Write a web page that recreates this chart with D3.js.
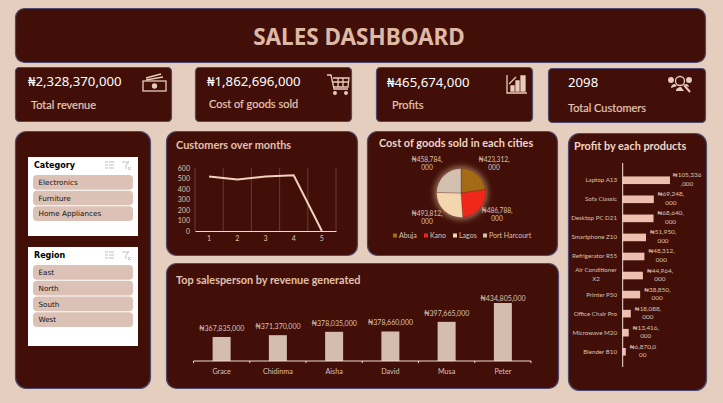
<!DOCTYPE html>
<html><head><meta charset="utf-8">
<script src="https://cdn.jsdelivr.net/npm/d3@7"></script>
<style>html,body{margin:0;padding:0;background:#E6CEBF;overflow:hidden}svg{display:block}text{font-family:"Noto Sans","Open Sans",sans-serif}</style>
</head><body><svg id="c" width="723" height="403"></svg>
<script>
const kpiValues=["₦2,328,370,000","₦1,862,696,000","₦465,674,000","2098"];
const kpiLabels=["Total revenue","Cost of goods sold","Profits","Total Customers"];
const months=[1,2,3,4,5];
const customers=[520,490,520,530,0];
const customerTicks=[0,100,200,300,400,500,600];
const cities=["Abuja","Kano","Lagos","Port Harcourt"];
const cityCost=[423312000,486788000,493812000,458784000];
const people=["Grace","Chidinma","Aisha","David","Musa","Peter"];
const revenue=[367835000,371370000,378035000,378660000,397665000,434805000];
const products=["Laptop A13","Sofa Classic","Desktop PC D21","Smartphone Z10","Refrigerator R55","Air Conditioner X2","Printer P50","Office Chair Pro","Microwave M20","Blender B10"];
const profit=[105336000,69248000,68640000,51950000,48312000,44964000,38850000,18088000,13416000,6870000];
const categories=["Electronics","Furniture","Home Appliances"];
const regions=["East","North","South","West"];

const DARK="#410F08",EDGE="#4C4A6E",SOFT="#DCC0B2",PALE="#E9CBBB";
const svg=d3.select("#c");
const naira=d=>"₦"+d3.format(",")(d);
function panel(x,y,w,h,r){svg.append("rect").attr("x",x+.5).attr("y",y+.5).attr("width",w).attr("height",h).attr("rx",r).attr("fill",DARK).attr("stroke",EDGE).attr("stroke-width",1.2);}
function label(g,x,y,t,size,fill,anchor,weight){return g.append("text").attr("x",x).attr("y",y).attr("font-size",size).attr("fill",fill).attr("text-anchor",anchor||"start").attr("font-weight",weight||400).text(t);}
function small(g,x,y,t,size,anchor){return label(g,x,y,t,size,SOFT,anchor).style("font-family","Lato");}
function heading(x,y,t,fill){return label(svg,x,y,t,10.9,fill,"start",700).style("font-family","Lato");}

// title
panel(15,8,690,54,9);
label(svg,359,45,"SALES DASHBOARD",22.5,"#DDB9A6","middle",700);

// KPI cards
const cards=[[15,67,156,54,28,86,31,109],[195,67,156,54,207,86,209,108],[376,67,156,54,387,87,392,109],[548,68,157,54,568,87,568,112]];
cards.forEach((c,i)=>{panel(c[0],c[1],c[2],c[3],4);
 label(svg,c[4],c[5],kpiValues[i],13.2,"#FFF");
 label(svg,c[6],c[7],kpiLabels[i],11,"#E3C6B6").style("font-family","Lato").style("stroke","#E3C6B6").style("stroke-width",.2);});
// KPI icons
const ic=svg.append("g").attr("fill","none").attr("stroke",PALE).attr("stroke-width",1.3);
ic.append("rect").attr("x",143).attr("y",81).attr("width",23).attr("height",10);
ic.append("circle").attr("cx",154.5).attr("cy",86).attr("r",2).attr("fill",PALE);
ic.append("path").attr("d","M146 78L161 74M146 80L163 77");
ic.append("path").attr("d","M327 75h4l3 14h14M333 78h16l-1 9h-14M338 78v9M343 78v9M333 82h16");
ic.append("circle").attr("cx",335).attr("cy",93).attr("r",1.3).attr("fill",PALE);
ic.append("circle").attr("cx",346).attr("cy",93).attr("r",1.3).attr("fill",PALE);
ic.append("path").attr("d","M507 75v18h20");
ic.append("path").attr("d","M511 91v-5h3v5zM516 91v-10h3v10zM521 91v-15h4v15z").attr("fill",PALE);
ic.append("path").attr("d","M509 84l7-7");
ic.append("circle").attr("cx",680).attr("cy",81).attr("r",4.5);
ic.append("path").attr("d","M684 85l6 7").attr("stroke-width",2);
ic.append("circle").attr("cx",671).attr("cy",80).attr("r",2.3).attr("fill",PALE);
ic.append("circle").attr("cx",689).attr("cy",80).attr("r",2.3).attr("fill",PALE);
ic.append("path").attr("d","M671 88c0-3 2-4 4-4l2 2zM689 87c0-2-2-3-3-3l-2 1zM676 91c0-3 3-4 5-4l3 4z").attr("fill",PALE).attr("stroke","none");

// slicers
panel(15,131,135,257,11);
function slicer(y,h,title,items){
 svg.append("rect").attr("x",28).attr("y",y).attr("width",110).attr("height",h).attr("fill","#FFF");
 label(svg,34,y+11,title,8,"#000","start",700).style("font-family","'DejaVu Sans'");
 const ig=svg.append("g").attr("stroke","#BDBDBD").attr("stroke-width",1).attr("fill","none");
 ig.append("path").attr("d",`M105 ${y+5}h3M105 ${y+8}h3M105 ${y+11}h3M109 ${y+5}h5M109 ${y+8}h5M109 ${y+11}h5`);
 ig.append("path").attr("d",`M122 ${y+5}h7l-3 3v4M128 ${y+10}l3 3M131 ${y+10}l-3 3`);
 const s=d3.scaleBand().domain(items).range([y+17,y+17+16*items.length]).padding(.06);
 svg.selectAll(null).data(items).join("rect").attr("x",33).attr("y",d=>s(d)).attr("width",100).attr("height",s.bandwidth()).attr("rx",4).attr("fill","#DCC2B6");
 svg.selectAll(null).data(items).join("text").attr("x",38.5).attr("y",d=>s(d)+s.bandwidth()/2+2.7).attr("font-size",7.2).attr("fill","#111").style("font-family","'DejaVu Sans'").text(d=>d);
}
slicer(157,79,"Category",categories);
slicer(247,99,"Region",regions);

// line chart
panel(166,131,191,124,10);
heading(176,149,"Customers over months","#E3C0AE");
const lx=d3.scaleBand().domain(months).range([195,336]);
const ly=d3.scaleLinear().domain([0,600]).range([231,168]);
svg.append("g").selectAll("line").data([...months.map(m=>lx(m)),336]).join("line").attr("x1",d=>d).attr("x2",d=>d).attr("y1",168).attr("y2",231).attr("stroke","#7A4E45").attr("stroke-width",.7);
const ya=svg.append("g").attr("transform","translate(191,0)").call(d3.axisLeft(ly).tickValues(customerTicks).tickSize(0).tickPadding(1));
ya.select(".domain").remove();
ya.selectAll("text").attr("font-size",7).attr("fill",SOFT).style("font-family","Lato");
const xa=svg.append("g").attr("transform","translate(0,231)").call(d3.axisBottom(lx).tickSize(0).tickPadding(5));
xa.select(".domain").attr("stroke","#F3DCCD").attr("stroke-width",1.1);
xa.selectAll("text").attr("font-size",7).attr("fill",SOFT).style("font-family","Lato");
svg.append("path").datum(customers).attr("fill","none").attr("stroke","#F2D1BD").attr("stroke-width",2)
 .attr("d",d3.line().x((d,i)=>lx(months[i])+lx.bandwidth()/2).y(d=>ly(d)));

// pie
panel(367,131,190,124,10);
heading(379,147,"Cost of goods sold in each cities","#F0D6C8");
const defs=svg.append("defs");
defs.append("filter").attr("id","glow").attr("x","-40%").attr("y","-40%").attr("width","180%").attr("height","180%").append("feGaussianBlur").attr("stdDeviation",3);
const pieColor=d3.scaleOrdinal().domain(cities).range(["#A26B14","#F0281C","#F3D5AE","#D3C0B0"]);
const pg=svg.append("g").attr("transform","translate(461,193)");
pg.append("circle").attr("r",26).attr("fill","#F2D0A8").attr("opacity",.6).attr("filter","url(#glow)");
const arcs=d3.pie().sort(null)(cityCost);
pg.selectAll("path").data(arcs).join("path").attr("d",d3.arc().innerRadius(0).outerRadius(24.5)).attr("fill",(d,i)=>pieColor(cities[i])).attr("stroke",DARK).attr("stroke-width",.25);
const pieLab=[[494,162],[497,213],[427,216],[427,162]];
cityCost.forEach((v,i)=>{const s=naira(v);
 small(svg,pieLab[i][0],pieLab[i][1],s.slice(0,9),6.6,"middle");
 small(svg,pieLab[i][0],pieLab[i][1]+8,s.slice(9),6.6,"middle");});
const legX=[393,424,453,483];
cities.forEach((c,i)=>{svg.append("rect").attr("x",legX[i]).attr("y",233.5).attr("width",4).attr("height",4).attr("fill",pieColor(c));
 small(svg,legX[i]+6,238,c,7);});

// salesperson bars
panel(166,263,392,125,10);
heading(176,284,"Top salesperson by revenue generated","#E3C0AE");
const bx=d3.scaleBand().domain(people).range([193.5,531]).paddingInner(.68).paddingOuter(.34);
const by=d3.scaleLinear().domain([320500000,434805000]).range([361,303]);
svg.selectAll(null).data(people).join("rect").attr("x",d=>bx(d)).attr("width",bx.bandwidth()).attr("y",(d,i)=>by(revenue[i])).attr("height",(d,i)=>361-by(revenue[i])).attr("fill","#D4BDAD");
svg.selectAll(null).data(people).join("text").attr("x",d=>bx(d)+bx.bandwidth()/2).attr("y",(d,i)=>Math.max(301,by(revenue[i])-6)).attr("text-anchor","middle").attr("font-size",7).attr("fill",SOFT).style("font-family","Lato").text((d,i)=>naira(revenue[i]));
const ba=svg.append("g").attr("transform","translate(0,361)").call(d3.axisBottom(bx).tickSize(0).tickPadding(8));
ba.select(".domain").attr("stroke","#F3DCCD").attr("stroke-width",1).attr("d","M193.5,2V0H531V2");
ba.selectAll("text").attr("font-size",7.2).attr("fill",SOFT).style("font-family","Lato");
svg.append("g").selectAll("line").data(people.slice(1)).join("line").attr("x1",d=>bx.step()*people.indexOf(d)+193.5).attr("x2",d=>bx.step()*people.indexOf(d)+193.5).attr("y1",361).attr("y2",363).attr("stroke","#F3DCCD");

// product bars
panel(568,133,138,257,11);
heading(574,150,"Profit by each products","#F0D6C8");
const py=d3.scaleBand().domain(products).range([165,367]).padding(.6);
const px=d3.scaleLinear().domain([0,105336000]).range([622.7,670]);
svg.selectAll(null).data(products).join("rect").attr("x",622.7).attr("y",d=>py(d)).attr("height",py.bandwidth()).attr("width",(d,i)=>px(profit[i])-622.7).attr("fill","#EEBFB0");
svg.append("line").attr("x1",622.7).attr("x2",622.7).attr("y1",163).attr("y2",367).attr("stroke","#F5E3D8").attr("stroke-width",1);
products.forEach((p,i)=>{const cy=py(p)+py.bandwidth()/2;
 if(p==="Air Conditioner X2"){small(svg,596,cy-4,"Air Conditioner",6.2,"middle");small(svg,596,cy+5,"X2",6.2,"middle");}
 else small(svg,617,cy+2,p,6.2,"end");
 const s=naira(profit[i]),lx2=px(profit[i])+17;
 const first=s.slice(0,8),rest=s.slice(8);
 small(svg,lx2,cy-3,first,6.4,"middle");
 small(svg,lx2,cy+5.5,rest,6.4,"middle");
});
</script></body></html>
